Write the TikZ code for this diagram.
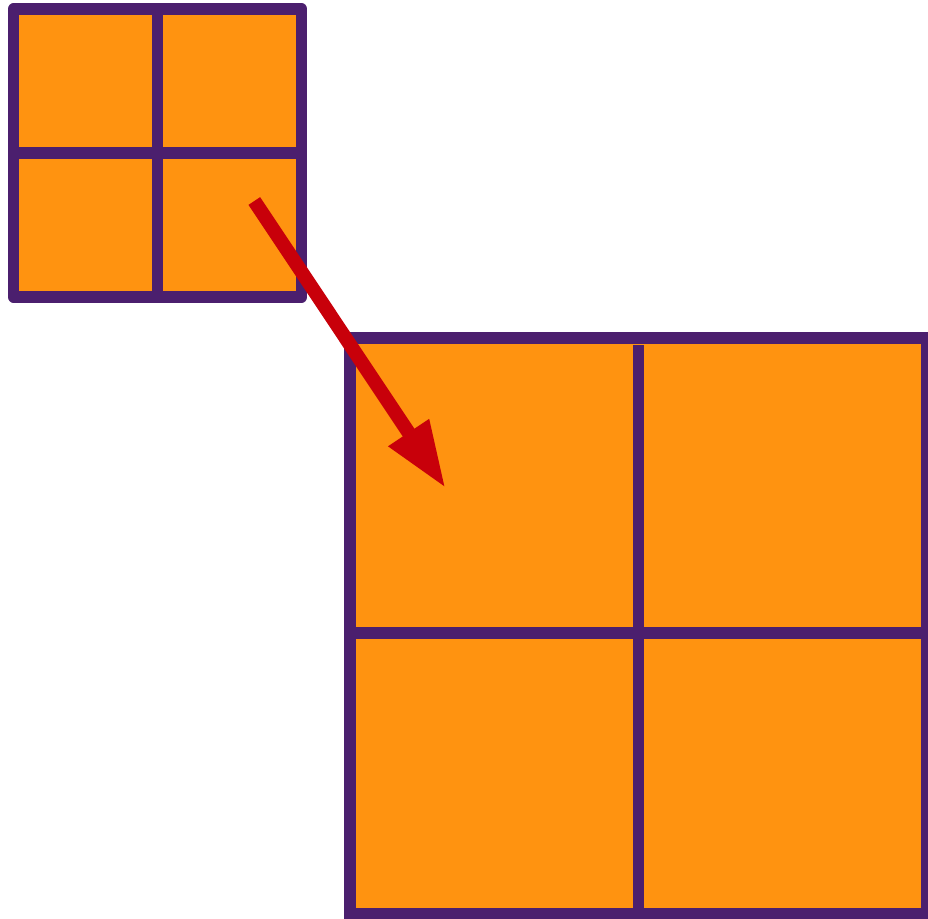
\documentclass[tikz,border=0pt]{standalone}
\usetikzlibrary{arrows.meta}
\definecolor{gridpurple}{RGB}{75,31,110}
\definecolor{cellorange}{RGB}{255,147,16}
\definecolor{arrowred}{RGB}{200,0,10}

\begin{document}
\begin{tikzpicture}[x=0.02cm,y=-0.02cm,
  grid/.style={draw=gridpurple,fill=cellorange,line width=0.23cm,inner sep=0pt,outer sep=0pt},
  divider/.style={draw=gridpurple,line width=0.23cm},
  zoomarrow/.style={draw=arrowred,line width=0.28cm,-{Triangle[length=1.34cm,width=0.9cm]}}]
  \useasboundingbox (0,0) rectangle (928,918);

  % small grid
  \node[grid,line join=round,minimum size=5.76cm] (small) at (157.6,153) {};
  \draw[divider] (small.north) -- (small.south);
  \draw[divider] (small.west) -- (small.east);

  % big grid
  \node[grid,line join=miter,minimum width=11.53cm,minimum height=11.52cm] (big) at (638.25,625.7) {};
  \draw[divider,shorten <=0.15cm] (big.north) -- (big.south);
  \draw[divider] ([yshift=-0.15cm]big.west) -- ([yshift=-0.15cm]big.east);

  % zoom arrow
  \coordinate (tail) at (254.3,201);
  \coordinate (tip) at (445.7,488.3);
  \draw[zoomarrow] (tail) -- (tip);
\end{tikzpicture}
\end{document}
